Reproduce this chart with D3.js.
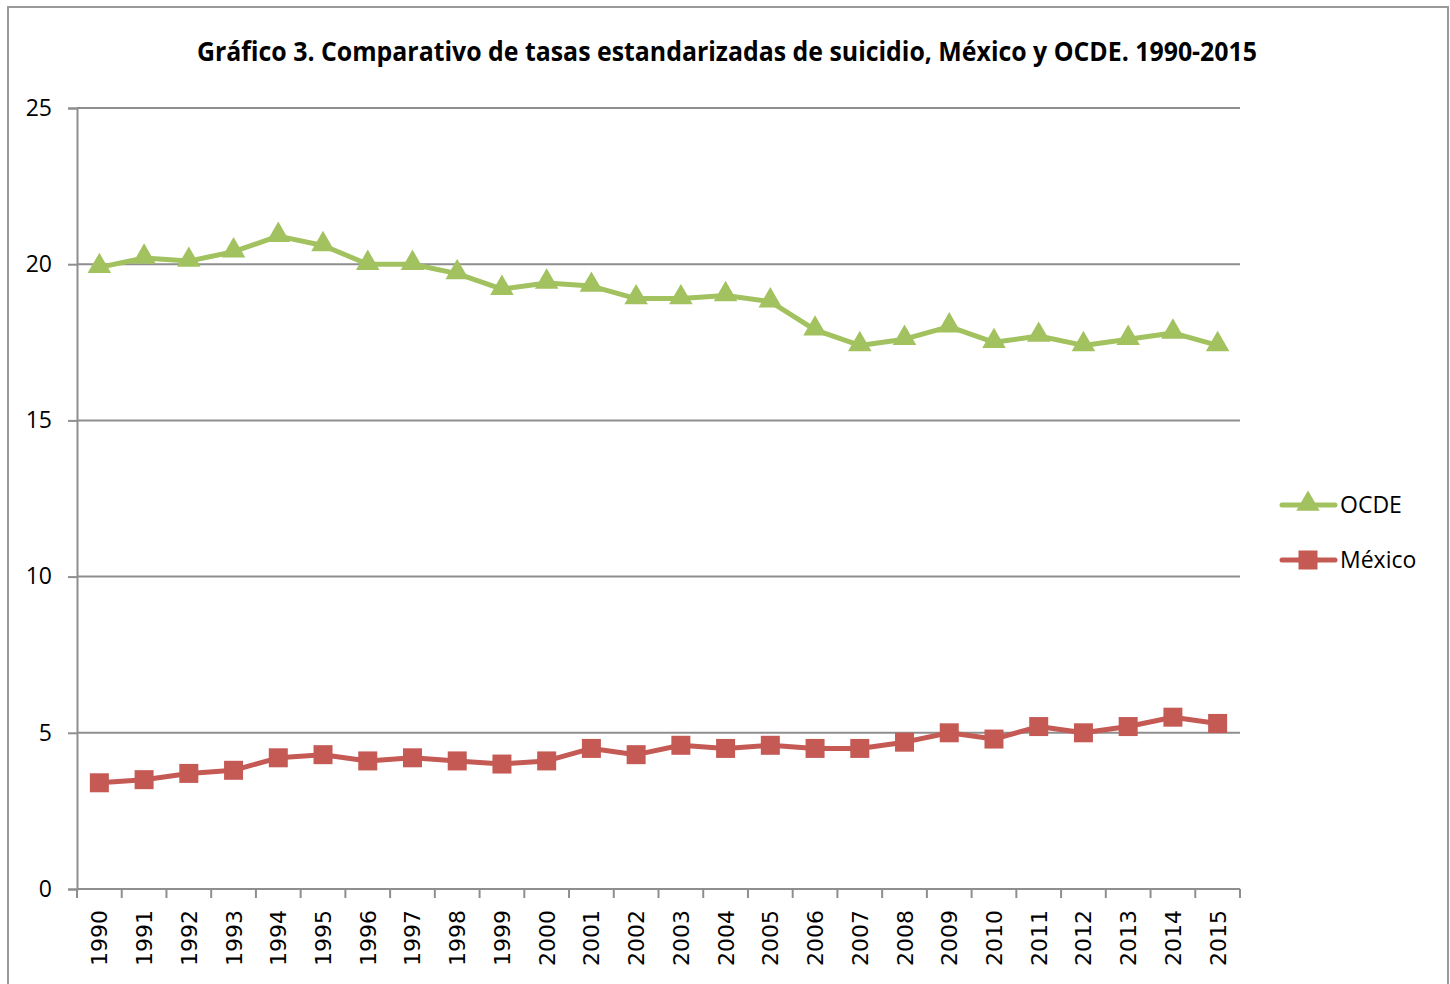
<!DOCTYPE html>
<html>
<head>
<meta charset="utf-8">
<script src="https://cdn.jsdelivr.net/npm/d3@7"></script>
<style>
  body { margin: 0; background: #fff; }
</style>
</head>
<body>
<div id="chart"></div>
<script>
// Tasas estandarizadas de suicidio, México vs OCDE
const years = ['1990','1991','1992','1993','1994','1995','1996','1997','1998','1999','2000','2001','2002',
               '2003','2004','2005','2006','2007','2008','2009','2010','2011','2012','2013','2014','2015'];
const ocde = [19.9, 20.2, 20.1, 20.4, 20.9, 20.6, 20.0, 20.0, 19.7, 19.2, 19.4, 19.3, 18.9,
              18.9, 19.0, 18.8, 17.9, 17.4, 17.6, 18.0, 17.5, 17.7, 17.4, 17.6, 17.8, 17.4];
const mexico = [3.4, 3.5, 3.7, 3.8, 4.2, 4.3, 4.1, 4.2, 4.1, 4.0, 4.1, 4.5, 4.3,
                4.6, 4.5, 4.6, 4.5, 4.5, 4.7, 5.0, 4.8, 5.2, 5.0, 5.2, 5.5, 5.3];
const yTicks = [0, 5, 10, 15, 20, 25];
const seriesNames = ['OCDE', 'México'];

const width = 1450, height = 984;
const m = { left: 77, right: 210, top: 108, bottom: 95 };
const green = '#a2c15f', red = '#c55a55', grey = '#8e8e8e';

const svg = d3.select('#chart').append('svg')
    .attr('width', width)
    .attr('height', height);

// chart frame
svg.append('rect')
    .attr('x', 8).attr('y', 7)
    .attr('width', 1440).attr('height', 990)
    .attr('fill', 'none')
    .attr('stroke', '#9a9a9a')
    .attr('stroke-width', 2);

svg.append('text')
    .attr('x', 727).attr('y', 61)
    .attr('text-anchor', 'middle')
    .attr('font-family', 'Open Sans, sans-serif')
    .attr('font-weight', 'bold')
    .attr('font-size', 26)
    .attr('textLength', 1060)
    .attr('lengthAdjust', 'spacingAndGlyphs')
    .text('Gráfico 3. Comparativo de tasas estandarizadas de suicidio, México y OCDE. 1990-2015');

const x = d3.scaleBand()
    .domain(years)
    .range([m.left, width - m.right])
    .padding(0);

const y = d3.scaleLinear()
    .domain([0, 25])
    .range([height - m.bottom, m.top]);

// gridlines
svg.append('g')
    .selectAll('line')
    .data(yTicks.filter(d => d > 0))
    .enter().append('line')
    .attr('x1', m.left).attr('x2', width - m.right)
    .attr('y1', d => y(d)).attr('y2', d => y(d))
    .attr('stroke', grey)
    .attr('stroke-width', 2);

// y axis
const yAxis = svg.append('g')
    .attr('transform', `translate(${m.left},0)`)
    .call(d3.axisLeft(y).tickValues(yTicks).tickSize(9).tickPadding(16));
yAxis.select('.domain').attr('stroke', grey).attr('stroke-width', 2);
yAxis.selectAll('.tick line').attr('stroke', grey).attr('stroke-width', 2);
yAxis.selectAll('.tick text')
    .attr('fill', '#000')
    .attr('font-family', 'Open Sans, sans-serif')
    .attr('font-size', 23);

// x axis: ticks on category boundaries
const xAxis = svg.append('g')
    .attr('transform', `translate(0,${y(0)})`);
xAxis.append('line')
    .attr('x1', m.left).attr('x2', width - m.right)
    .attr('stroke', grey).attr('stroke-width', 2);
xAxis.selectAll('line.tk')
    .data(years.concat(['end']))
    .enter().append('line')
    .attr('class', 'tk')
    .attr('x1', (d, i) => m.left + i * x.bandwidth())
    .attr('x2', (d, i) => m.left + i * x.bandwidth())
    .attr('y1', 0).attr('y2', 9)
    .attr('stroke', grey).attr('stroke-width', 2);
xAxis.selectAll('text')
    .data(years)
    .enter().append('text')
    .attr('transform', d => `translate(${x(d) + x.bandwidth() / 2 + 8},21) rotate(-90)`)
    .attr('text-anchor', 'end')
    .attr('font-family', 'DejaVu Sans, sans-serif')
    .attr('font-size', 22)
    .text(d => d);

const cx = d => x(d) + x.bandwidth() / 2;
const line = d3.line()
    .x((d, i) => cx(years[i]))
    .y(d => y(d));

const tri = d3.symbol().type(d3.symbolTriangle).size(240);
const sq = 19;

// OCDE
svg.append('path')
    .datum(ocde)
    .attr('d', line)
    .attr('fill', 'none')
    .attr('stroke', green)
    .attr('stroke-width', 5)
    .attr('stroke-linejoin', 'round');
svg.append('g')
    .selectAll('path')
    .data(ocde)
    .enter().append('path')
    .attr('d', tri)
    .attr('transform', (d, i) => `translate(${cx(years[i])},${y(d) - 1})`)
    .attr('fill', green);

// México
svg.append('path')
    .datum(mexico)
    .attr('d', line)
    .attr('fill', 'none')
    .attr('stroke', red)
    .attr('stroke-width', 5)
    .attr('stroke-linejoin', 'round');
svg.append('g')
    .selectAll('rect')
    .data(mexico)
    .enter().append('rect')
    .attr('x', (d, i) => cx(years[i]) - sq / 2)
    .attr('y', d => y(d) - sq / 2)
    .attr('width', sq).attr('height', sq)
    .attr('fill', red);

// legend
const legend = svg.append('g').attr('transform', 'translate(1282,505)');
seriesNames.forEach((name, i) => {
    const g = legend.append('g').attr('transform', `translate(0,${i * 55})`);
    const col = i === 0 ? green : red;
    g.append('line')
        .attr('x1', 0).attr('x2', 53)
        .attr('stroke', col).attr('stroke-width', 5)
        .attr('stroke-linecap', 'round');
    if (i === 0) {
        g.append('path').attr('d', tri).attr('transform', 'translate(26,-1)').attr('fill', col);
    } else {
        g.append('rect').attr('x', 26 - sq / 2).attr('y', -sq / 2)
            .attr('width', sq).attr('height', sq).attr('fill', col);
    }
    g.append('text')
        .attr('x', 58).attr('y', 8)
        .attr('font-family', 'Open Sans, sans-serif')
        .attr('font-size', 23)
        .text(name);
});
</script>
</body>
</html>
